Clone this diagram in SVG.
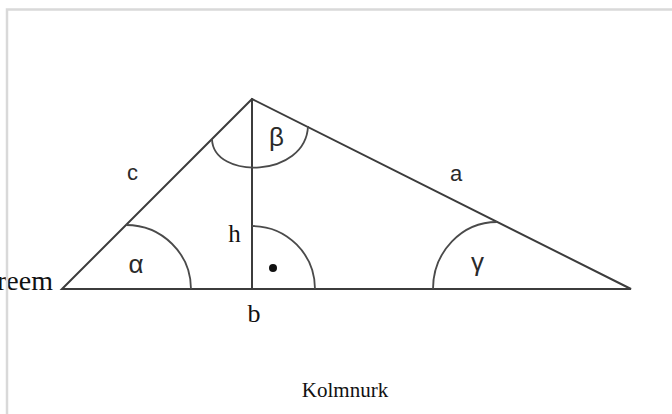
<svg xmlns="http://www.w3.org/2000/svg" width="672" height="414" viewBox="0 0 672 414">
<style>
.edge{stroke:#3c3c3c;stroke-width:2;fill:none;stroke-linecap:round}
.arc{stroke:#4a4a4a;stroke-width:1.8;fill:none}
.sans{font-family:"Liberation Sans",Arial,sans-serif;fill:#2a2a2a;text-anchor:middle}
.serif{font-family:"Liberation Serif","Times New Roman",serif;fill:#111;text-anchor:middle}
</style>
<rect x="0" y="0" width="672" height="414" fill="#ffffff"/>
<text class="serif" x="53" y="290" font-size="28" style="text-anchor:end">reem</text>
<rect x="7" y="9.5" width="720" height="460" fill="none" stroke="#d9d9d9" stroke-width="2.5"/>
<g id="connectors">
<polygon class="edge" points="62,289 252,99 631,289"/>
<line class="edge" x1="252" y1="99" x2="252" y2="289"/>
</g>
<g id="angle-alpha">
<path class="arc" d="M191,289 A65 64 0 0 0 126,225"/>
<text class="sans" x="136" y="273" font-size="26">α</text>
</g>
<g id="angle-beta">
<path class="arc" d="M212,139 C213,180 306,178 308,126"/>
<text class="sans" x="276.5" y="146" font-size="26">β</text>
</g>
<g id="angle-gamma">
<path class="arc" d="M433,289 A64 67 0 0 1 497,222"/>
<text class="sans" x="477.5" y="271" font-size="26">γ</text>
</g>
<g id="right-angle">
<path class="arc" d="M252,226 A63 63 0 0 1 315,289"/>
<circle cx="273" cy="268" r="4" fill="#111"/>
</g>
<g id="labels">
<text class="sans" x="132.5" y="180" font-size="22">c</text>
<text class="sans" x="456" y="181" font-size="22">a</text>
<text class="serif" x="234.5" y="242" font-size="25">h</text>
<text class="serif" x="254" y="322" font-size="26">b</text>
<text class="serif" x="345" y="397" font-size="21">Kolmnurk</text>
</g>
</svg>
